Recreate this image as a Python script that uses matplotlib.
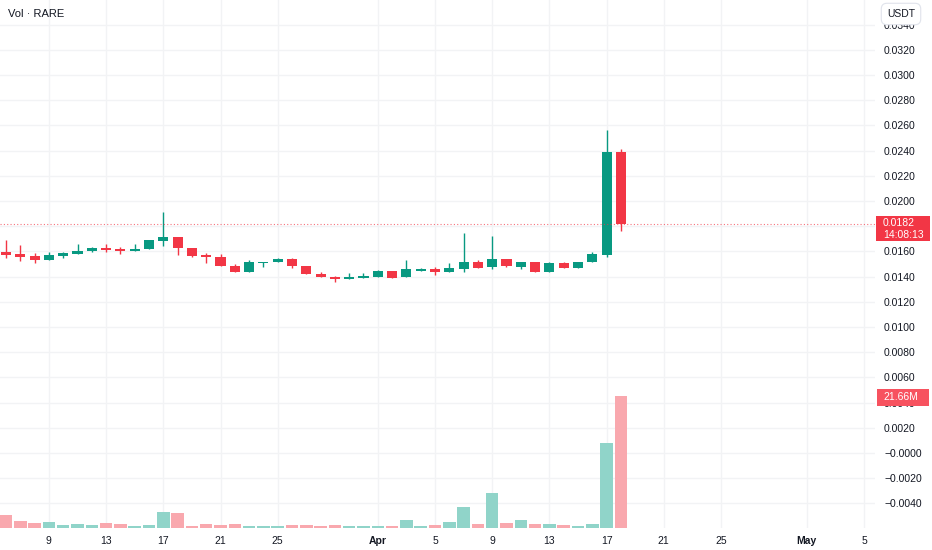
import matplotlib.pyplot as plt
import matplotlib.dates as mdates
import matplotlib.patches as mpatches
import datetime as dt

plt.rcParams['font.family'] = ['Liberation Sans', 'DejaVu Sans']

# daily candles, Mar 6 .. Apr 18
dates = [dt.date(2024, 3, 6) + dt.timedelta(days=i) for i in range(44)]

opens = [0.01598, 0.01579, 0.01561, 0.01534, 0.01563, 0.01582, 0.01603, 0.01630, 0.01622, 0.01606,
         0.01617, 0.01683, 0.01714, 0.01625, 0.01569, 0.01556, 0.01482, 0.01434, 0.01510, 0.01513,
         0.01540, 0.01482, 0.01423, 0.01399, 0.01381, 0.01391, 0.01399, 0.01444, 0.01399, 0.01447,
         0.01458, 0.01439, 0.01460, 0.01513, 0.01474, 0.01537, 0.01479, 0.01513, 0.01439, 0.01506,
         0.01471, 0.01513, 0.01571, 0.02389]
highs = [0.01690, 0.01651, 0.01585, 0.01598, 0.01598, 0.01659, 0.01633, 0.01659, 0.01635, 0.01659,
         0.01688, 0.01910, 0.01717, 0.01625, 0.01587, 0.01577, 0.01500, 0.01529, 0.01516, 0.01545,
         0.01550, 0.01482, 0.01434, 0.01407, 0.01426, 0.01426, 0.01452, 0.01444, 0.01532, 0.01471,
         0.01479, 0.01506, 0.01744, 0.01532, 0.01725, 0.01537, 0.01513, 0.01513, 0.01513, 0.01516,
         0.01513, 0.01593, 0.02563, 0.02410]
lows = [0.01550, 0.01526, 0.01506, 0.01534, 0.01550, 0.01579, 0.01598, 0.01598, 0.01579, 0.01606,
        0.01617, 0.01646, 0.01571, 0.01558, 0.01506, 0.01482, 0.01434, 0.01434, 0.01476, 0.01513,
        0.01466, 0.01423, 0.01394, 0.01360, 0.01381, 0.01391, 0.01399, 0.01386, 0.01399, 0.01447,
        0.01413, 0.01439, 0.01439, 0.01471, 0.01458, 0.01476, 0.01463, 0.01439, 0.01439, 0.01471,
        0.01471, 0.01513, 0.01558, 0.01764]
closes = [0.01571, 0.01553, 0.01534, 0.01569, 0.01585, 0.01606, 0.01627, 0.01611, 0.01606, 0.01619,
          0.01688, 0.01717, 0.01625, 0.01566, 0.01556, 0.01482, 0.01434, 0.01513, 0.01513, 0.01540,
          0.01484, 0.01423, 0.01394, 0.01381, 0.01397, 0.01407, 0.01444, 0.01391, 0.01458, 0.01458,
          0.01439, 0.01466, 0.01513, 0.01471, 0.01537, 0.01484, 0.01513, 0.01439, 0.01506, 0.01471,
          0.01513, 0.01579, 0.02389, 0.01820]
# volume in millions
volumes = [2.1, 1.1, 0.8, 0.93, 0.5, 0.7, 0.45, 0.8, 0.7, 0.33,
           0.45, 2.7, 2.5, 0.33, 0.6, 0.45, 0.6, 0.33, 0.28, 0.28,
           0.45, 0.45, 0.33, 0.45, 0.28, 0.33, 0.33, 0.33, 1.37, 0.33,
           0.55, 0.93, 3.4, 0.7, 5.8, 0.8, 1.37, 0.7, 0.7, 0.45,
           0.28, 0.6, 13.9, 21.66]

price_ticks = [0.034, 0.032, 0.030, 0.028, 0.026, 0.024, 0.022, 0.020, 0.018, 0.016, 0.014, 0.012,
               0.010, 0.008, 0.006, 0.004, 0.002, 0.0, -0.002, -0.004]
# 0.0180 sits under the last-price tag, so it has no label
price_labels = ['0.0340', '0.0320', '0.0300', '0.0280', '0.0260', '0.0240', '0.0220', '0.0200', '',
                '0.0160', '0.0140', '0.0120', '0.0100', '0.0080', '0.0060', '0.0040', '0.0020',
                '\u22120.0000', '\u22120.0020', '\u22120.0040']
date_ticks = [dt.date(2024, 3, 9), dt.date(2024, 3, 13), dt.date(2024, 3, 17), dt.date(2024, 3, 21),
              dt.date(2024, 3, 25), dt.date(2024, 4, 1), dt.date(2024, 4, 5), dt.date(2024, 4, 9),
              dt.date(2024, 4, 13), dt.date(2024, 4, 17), dt.date(2024, 4, 21), dt.date(2024, 4, 25),
              dt.date(2024, 5, 1), dt.date(2024, 5, 5)]
date_labels = ['9', '13', '17', '21', '25', 'Apr', '5', '9', '13', '17', '21', '25', 'May', '5']

last_price = 0.0182

up = '#089981'
down = '#f23645'
up_vol = '#90d4c9'
down_vol = '#f9a8ae'
txt = '#131722'
grid_c = '#f2f3f5'

W, H = 932, 550
fig = plt.figure(figsize=(W / 100, H / 100), dpi=100)
ax = fig.add_axes([0, 22 / H, 875 / W, 528 / H])
ax2 = ax.twinx()

x = mdates.date2num(dates)

# volume (twin axis, drawn over the price grid)
vcol = [up_vol if c >= o else down_vol for o, c in zip(opens, closes)]
ax2.bar(x, [v * 1e6 for v in volumes], width=0.88, color=vcol, linewidth=0)
ax2.set_ylim(0, 21.66e6 * 528 / 132.3)
ax2.set_yticks([])

# candles
for xi, o, h, l, c in zip(x, opens, highs, lows, closes):
    col = up if c >= o else down
    ax.vlines(xi, l, h, color=col, linewidth=1)
    body = max(abs(c - o), 0.00003)
    ax.bar(xi, body, bottom=min(o, c), width=0.7, color=col, linewidth=0)

ax.axhline(last_price, color=down, linestyle=(0, (1, 2)), linewidth=0.8, alpha=0.7)

ax.set_xlim(x[0] - 0.42, x[0] + 60.77)
ax.set_ylim(-75 / 12600, 453 / 12600)

ax.yaxis.tick_right()
ax.set_yticks(price_ticks)
ax.set_yticklabels(price_labels)
ax.set_xticks(mdates.date2num(date_ticks))
ax.set_xticklabels(date_labels)
for lab in ax.get_xticklabels():
    if lab.get_text() in ('Apr', 'May'):
        lab.set_fontweight('bold')
ax.tick_params(axis='y', length=0, pad=6.5, labelsize=7.5, labelcolor=txt)
ax.tick_params(axis='x', length=0, pad=5.5, labelsize=7.5, labelcolor=txt)
ax.grid(True, color=grid_c, linewidth=1)
ax.set_axisbelow(True)
for ax_ in (ax, ax2):
    for s in ax_.spines.values():
        s.set_visible(False)

fig.text(8 / W, 1 - 14 / H, 'Vol \u00b7 RARE', fontsize=8, color=txt, va='center')

# right side labels
fig.text(901 / W, 1 - 14 / H, 'USDT', fontsize=7.5, color=txt, ha='center', va='center', zorder=12,
         bbox=dict(boxstyle='round,pad=0.55', facecolor='white', edgecolor='#e0e3eb', linewidth=0.8))
fig.patches.append(mpatches.Rectangle((876 / W, 1 - 241 / H), 54 / W, 25 / H, zorder=10,
                                      transform=fig.transFigure, facecolor=down, edgecolor='none'))
fig.text(883 / W, 1 - 222.5 / H, '0.0182', fontsize=7.5, color='white', va='center', zorder=11)
fig.text(883 / W, 1 - 234.5 / H, '14:08:13', fontsize=7.5, color='white', va='center', zorder=11)
fig.patches.append(mpatches.Rectangle((877 / W, 1 - 406 / H), 52 / W, 17 / H, zorder=10,
                                      transform=fig.transFigure, facecolor='#f7525f', edgecolor='none'))
fig.text(883 / W, 1 - 397.5 / H, '21.66M', fontsize=7.5, color='white', va='center', zorder=11)

fig.savefig('out.png', dpi=100)
